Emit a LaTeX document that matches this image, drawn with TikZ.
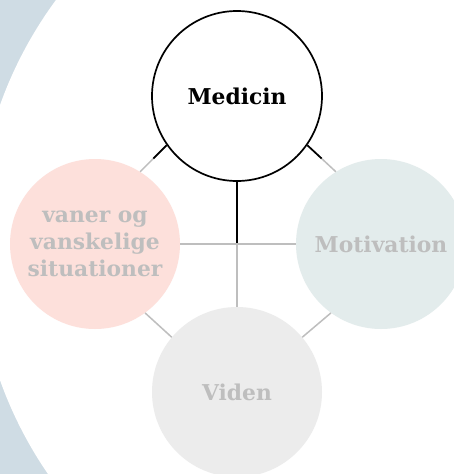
\documentclass[tikz,border=0pt]{standalone}
\usepackage{fontspec}
\setmainfont{DejaVu Serif}
\usetikzlibrary{calc}
\definecolor{bgblue}{RGB}{207,220,228}
\definecolor{pinkc}{RGB}{253,224,219}
\definecolor{mintc}{RGB}{227,236,236}
\definecolor{greyc}{RGB}{236,236,236}
\definecolor{txtgrey}{RGB}{190,190,190}
\definecolor{lngrey}{RGB}{190,190,190}
\begin{document}
\begin{tikzpicture}[x=1pt,y=-1pt,
  bubble/.style={circle,minimum size=170pt,inner sep=0pt,align=center,
    font=\fontsize{21.8}{27}\selectfont\bfseries},
  faded/.style={bubble,text=txtgrey},
  glink/.style={draw=lngrey,line width=1.5pt},
  blink/.style={draw=black,line width=1.7pt}]
\useasboundingbox (0,0) rectangle (454,474);
\clip (0,0) rectangle (454,474);
\fill[bgblue] (0,0) rectangle (454,474);
\fill[white] (385.4,242.6) circle[radius=409.1];
% nodes
\node[bubble,draw=black,line width=1.7pt,fill=white] (med) at (237,96) {Medicin};
\node[faded,fill=pinkc] (lft) at (95,244) {vaner og\\vanskelige\\situationer};
\node[faded,fill=mintc] (rgt) at (381,244) {Motivation};
\node[faded,fill=greyc] (bot) at (237,392) {Viden};
\coordinate (hub) at ($(med.south)!0.5!(bot.north)$);
% connectors
\draw[glink] (med.215) -- (lft.58);
\draw[glink] (med.325) -- (rgt.122);
\draw[glink] (lft.306) -- (bot.140);
\draw[glink] (rgt.234) -- (bot.40);
\draw[glink] (lft.east) -- (rgt.west);
\draw[glink] (hub) -- (bot.north);
\draw[blink] (med.215) -- ($(med.215)!0.5!(lft.58)$);
\draw[blink] (med.325) -- ($(med.325)!0.5!(rgt.122)$);
\draw[blink] (med.south) -- ($(hub)+(0,-1)$);
\end{tikzpicture}
\end{document}
